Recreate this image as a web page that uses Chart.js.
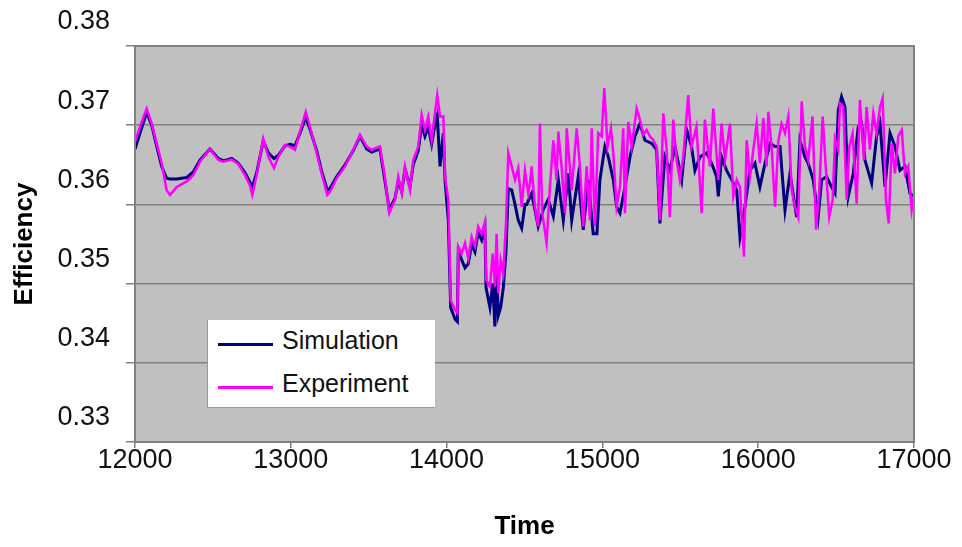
<!DOCTYPE html>
<html>
<head>
<meta charset="utf-8">
<title>Efficiency</title>
<script src="https://cdn.jsdelivr.net/npm/chart.js@4.4.1/dist/chart.umd.min.js"></script>
<style>
  body { margin: 0; background: #fff; }
  #wrap { position: relative; width: 962px; height: 547px; }
  #legend {
    position: absolute; left: 207px; top: 320px; width: 227px; height: 87px;
    background: #fff; border-left: 1px solid #9a9a9a; border-bottom: 1px solid #9a9a9a;
    font: 25px "Liberation Sans", Arial, sans-serif; color: #111;
  }
  #legend .item { position: absolute; left: 10px; height: 30px; display: flex; align-items: center; }
  #legend .swatch { width: 55px; height: 3px; margin: 8px 9px 0 0; }
</style>
</head>
<body>
<div id="wrap">
  <canvas id="chart" width="962" height="547"></canvas>
  <div id="legend"></div>
</div>
<script>
// measured efficiency (experiment)
const expTime = [
  12000, 12032, 12075, 12107, 12139, 12171, 12203, 12225, 12268, 12332, 12374, 12417, 12481, 12535, 12567,
  12621, 12663, 12706, 12738, 12753, 12781, 12823, 12856, 12892, 12920, 12963, 12995, 13027, 13059, 13096,
  13123, 13166, 13198, 13234, 13252, 13294, 13348, 13401, 13444, 13487, 13519, 13572, 13604, 13632, 13669,
  13690, 13712, 13733, 13765, 13786, 13818, 13840, 13861, 13882, 13904, 13925, 13940, 13958, 13979, 13990,
  14011, 14026, 14054, 14069, 14075, 14097, 14118, 14139, 14161, 14182, 14203, 14225, 14246, 14253, 14278,
  14296, 14310, 14321, 14332, 14347, 14364, 14381, 14396, 14418, 14439, 14460, 14482, 14503, 14524, 14535,
  14546, 14567, 14588, 14599, 14614, 14642, 14663, 14685, 14706, 14717, 14738, 14760, 14771, 14803, 14835,
  14856, 14877, 14899, 14920, 14931, 14952, 14973, 14995, 15012, 15033, 15055, 15070, 15091, 15113, 15134,
  15145, 15166, 15188, 15220, 15241, 15263, 15284, 15305, 15327, 15348, 15369, 15391, 15412, 15433, 15455,
  15476, 15497, 15519, 15551, 15572, 15604, 15637, 15658, 15690, 15712, 15744, 15765, 15787, 15819, 15840,
  15862, 15883, 15900, 15909, 15926, 15947, 15969, 15990, 16011, 16033, 16054, 16065, 16086, 16108, 16129,
  16150, 16172, 16193, 16215, 16236, 16257, 16279, 16300, 16321, 16349, 16371, 16392, 16414, 16435, 16456,
  16478, 16493, 16514, 16525, 16546, 16568, 16585, 16606, 16632, 16653, 16679, 16696, 16717, 16739, 16760,
  16782, 16799, 16820, 16838, 16857, 16878, 16899, 16921, 16942, 16963, 16985, 17000
];
const expEff = [
  0.3679, 0.3698, 0.3721, 0.3702, 0.3677, 0.3652, 0.3618, 0.3612, 0.3622, 0.3629, 0.3637, 0.3654, 0.3670, 0.3656, 0.3654,
  0.3657, 0.3651, 0.3637, 0.3624, 0.3612, 0.3637, 0.3683, 0.3660, 0.3646, 0.3660, 0.3675, 0.3673, 0.3669, 0.3692, 0.3717,
  0.3698, 0.3665, 0.3639, 0.3612, 0.3616, 0.3633, 0.3648, 0.3669, 0.3688, 0.3673, 0.3669, 0.3673, 0.3635, 0.3589, 0.3606,
  0.3635, 0.3614, 0.3648, 0.3618, 0.3656, 0.3673, 0.3713, 0.3694, 0.3711, 0.3681, 0.3715, 0.3738, 0.3711, 0.3711, 0.3635,
  0.3606, 0.3479, 0.3467, 0.3463, 0.3547, 0.3538, 0.3551, 0.3532, 0.3559, 0.3547, 0.3572, 0.3563, 0.3578, 0.3505, 0.3496,
  0.3538, 0.3496, 0.3563, 0.3488, 0.3530, 0.3513, 0.3576, 0.3665, 0.3648, 0.3631, 0.3646, 0.3597, 0.3643, 0.3614, 0.3627,
  0.3648, 0.3597, 0.3572, 0.3702, 0.3589, 0.3551, 0.3622, 0.3681, 0.3631, 0.3692, 0.3648, 0.3589, 0.3696, 0.3618, 0.3696,
  0.3648, 0.3572, 0.3648, 0.3580, 0.3696, 0.3572, 0.3690, 0.3686, 0.3747, 0.3673, 0.3696, 0.3665, 0.3597, 0.3622, 0.3696,
  0.3589, 0.3704, 0.3673, 0.3721, 0.3707, 0.3688, 0.3694, 0.3686, 0.3681, 0.3673, 0.3580, 0.3715, 0.3669, 0.3584, 0.3707,
  0.3656, 0.3631, 0.3660, 0.3738, 0.3673, 0.3698, 0.3589, 0.3707, 0.3648, 0.3721, 0.3631, 0.3702, 0.3656, 0.3702, 0.3610,
  0.3631, 0.3622, 0.3559, 0.3534, 0.3681, 0.3635, 0.3669, 0.3702, 0.3652, 0.3709, 0.3648, 0.3717, 0.3673, 0.3597, 0.3679,
  0.3702, 0.3690, 0.3711, 0.3618, 0.3597, 0.3584, 0.3730, 0.3673, 0.3656, 0.3711, 0.3568, 0.3618, 0.3711, 0.3643, 0.3584,
  0.3606, 0.3683, 0.3669, 0.3728, 0.3723, 0.3606, 0.3673, 0.3690, 0.3601, 0.3732, 0.3656, 0.3723, 0.3669, 0.3715, 0.3690,
  0.3723, 0.3734, 0.3606, 0.3576, 0.3677, 0.3639, 0.3686, 0.3694, 0.3639, 0.3648, 0.3593, 0.3612
];

// model output (simulation)
const simTime = [
  12000, 12032, 12075, 12107, 12139, 12171, 12203, 12225, 12268, 12332, 12374, 12417, 12481, 12535, 12567,
  12621, 12663, 12706, 12738, 12753, 12781, 12823, 12856, 12892, 12920, 12963, 12995, 13027, 13059, 13096,
  13123, 13166, 13198, 13234, 13252, 13294, 13348, 13401, 13444, 13487, 13519, 13572, 13604, 13632, 13669,
  13690, 13712, 13733, 13765, 13786, 13818, 13840, 13861, 13882, 13904, 13925, 13940, 13958, 13979, 13990,
  14011, 14026, 14054, 14069, 14075, 14097, 14118, 14139, 14161, 14182, 14203, 14225, 14246, 14253, 14278,
  14296, 14310, 14321, 14332, 14347, 14364, 14381, 14396, 14418, 14439, 14460, 14482, 14503, 14514, 14546,
  14588, 14620, 14652, 14685, 14717, 14749, 14781, 14803, 14845, 14877, 14909, 14941, 14965, 14984, 15016,
  15038, 15070, 15091, 15113, 15145, 15177, 15209, 15241, 15273, 15316, 15348, 15369, 15401, 15433, 15466,
  15509, 15541, 15572, 15594, 15626, 15669, 15701, 15733, 15744, 15765, 15797, 15830, 15862, 15883, 15915,
  15947, 15979, 16011, 16044, 16076, 16108, 16140, 16172, 16204, 16247, 16268, 16300, 16321, 16353, 16385,
  16407, 16439, 16471, 16493, 16514, 16535, 16557, 16578, 16610, 16642, 16664, 16685, 16728, 16760, 16782,
  16814, 16846, 16878, 16910, 16942, 16974, 17000
];
const simEff = [
  0.3670, 0.3690, 0.3716, 0.3700, 0.3674, 0.3648, 0.3633, 0.3632, 0.3632, 0.3634, 0.3641, 0.3656, 0.3670, 0.3658, 0.3655,
  0.3658, 0.3652, 0.3640, 0.3628, 0.3622, 0.3640, 0.3680, 0.3665, 0.3658, 0.3662, 0.3674, 0.3676, 0.3674, 0.3690, 0.3710,
  0.3695, 0.3668, 0.3642, 0.3618, 0.3620, 0.3635, 0.3650, 0.3668, 0.3686, 0.3670, 0.3666, 0.3670, 0.3630, 0.3593, 0.3608,
  0.3630, 0.3616, 0.3645, 0.3622, 0.3650, 0.3668, 0.3700, 0.3686, 0.3698, 0.3676, 0.3700, 0.3712, 0.3648, 0.3690, 0.3630,
  0.3580, 0.3470, 0.3455, 0.3452, 0.3540, 0.3530, 0.3520, 0.3525, 0.3550, 0.3540, 0.3565, 0.3555, 0.3570, 0.3495, 0.3470,
  0.3500, 0.3446, 0.3520, 0.3460, 0.3470, 0.3495, 0.3540, 0.3620, 0.3618, 0.3600, 0.3580, 0.3570, 0.3600, 0.3600, 0.3614,
  0.3572, 0.3593, 0.3606, 0.3585, 0.3631, 0.3580, 0.3639, 0.3580, 0.3635, 0.3568, 0.3631, 0.3563, 0.3563, 0.3631, 0.3673,
  0.3660, 0.3631, 0.3597, 0.3589, 0.3622, 0.3660, 0.3686, 0.3702, 0.3681, 0.3677, 0.3669, 0.3576, 0.3660, 0.3643, 0.3673,
  0.3631, 0.3694, 0.3673, 0.3643, 0.3660, 0.3665, 0.3652, 0.3635, 0.3610, 0.3660, 0.3643, 0.3631, 0.3618, 0.3559, 0.3597,
  0.3643, 0.3652, 0.3622, 0.3652, 0.3677, 0.3673, 0.3673, 0.3593, 0.3639, 0.3584, 0.3681, 0.3660, 0.3652, 0.3631, 0.3584,
  0.3631, 0.3635, 0.3622, 0.3614, 0.3719, 0.3736, 0.3723, 0.3610, 0.3639, 0.3698, 0.3702, 0.3656, 0.3627, 0.3686, 0.3702,
  0.3622, 0.3690, 0.3673, 0.3643, 0.3648, 0.3614, 0.3610
];

const xTicks = [12000, 13000, 14000, 15000, 16000, 17000];
const yTicks = [0.33, 0.34, 0.35, 0.36, 0.37, 0.38];

const FONT = '"Liberation Sans", Arial, sans-serif';
const GRID = '#808080';

// grey plot area with a frame round it
const plotFrame = {
  id: 'plotFrame',
  beforeDraw(chart) {
    const { ctx, chartArea: a } = chart;
    ctx.save();
    ctx.fillStyle = '#c0c0c0';
    ctx.fillRect(a.left, a.top, a.width, a.height);
    ctx.restore();
  },
  afterDraw(chart) {
    const { ctx, chartArea: a } = chart;
    ctx.save();
    ctx.strokeStyle = GRID;
    ctx.lineWidth = 2;
    ctx.strokeRect(a.left, a.top, a.width, a.height);
    ctx.restore();
  }
};

const toPoints = (xs, ys) => xs.map((x, i) => ({ x, y: ys[i] }));

const chart = new Chart(document.getElementById('chart'), {
  type: 'line',
  data: {
    datasets: [
      { label: 'Simulation', data: toPoints(simTime, simEff), borderColor: '#000080', borderWidth: 3, order: 1 },
      { label: 'Experiment', data: toPoints(expTime, expEff), borderColor: '#ff00ff', borderWidth: 2.5, order: 0 }
    ]
  },
  options: {
    responsive: false,
    animation: false,
    events: [],
    elements: { point: { radius: 0 }, line: { tension: 0 } },
    layout: { padding: { top: 46, right: 48, left: 0, bottom: 0 } },
    plugins: { legend: { display: false }, tooltip: { enabled: false } },
    scales: {
      x: {
        type: 'linear', min: 12000, max: 17000,
        afterFit: s => { s.height = 105; },
        afterBuildTicks: s => { s.ticks = xTicks.map(v => ({ value: v })); },
        ticks: { color: '#111', font: { family: FONT, size: 27, lineHeight: 1 }, padding: -1, maxRotation: 0, callback: v => String(v) },
        grid: { drawOnChartArea: false, drawTicks: true, tickLength: 6, color: GRID, lineWidth: 1.5 },
        border: { color: GRID, width: 2 },
        title: { display: true, text: 'Time', color: '#000', font: { family: FONT, size: 26, weight: 'bold' }, padding: { top: 0, bottom: 5 } }
      },
      y: {
        min: 0.33, max: 0.38,
        afterFit: s => { s.width = 135; },
        afterBuildTicks: s => { s.ticks = yTicks.map(v => ({ value: v })); },
        ticks: { color: '#111', font: { family: FONT, size: 27 }, padding: 16, labelOffset: -24, callback: v => v.toFixed(2) },
        grid: { color: GRID, lineWidth: 1.5, tickLength: 9 },
        border: { color: GRID, width: 2 },
        title: { display: true, text: 'Efficiency', color: '#000', font: { family: FONT, size: 26, weight: 'bold' }, padding: { top: 9, bottom: 0 } }
      }
    }
  },
  plugins: [plotFrame]
});

// legend box inside the plot, built from the datasets
const legendEl = document.getElementById('legend');
chart.data.datasets.forEach((ds, i) => {
  const item = document.createElement('div');
  item.className = 'item';
  item.style.top = (5 + i * 43) + 'px';
  item.innerHTML = `<span class="swatch" style="background:${ds.borderColor}"></span><span>${ds.label}</span>`;
  legendEl.appendChild(item);
});
</script>
</body>
</html>
